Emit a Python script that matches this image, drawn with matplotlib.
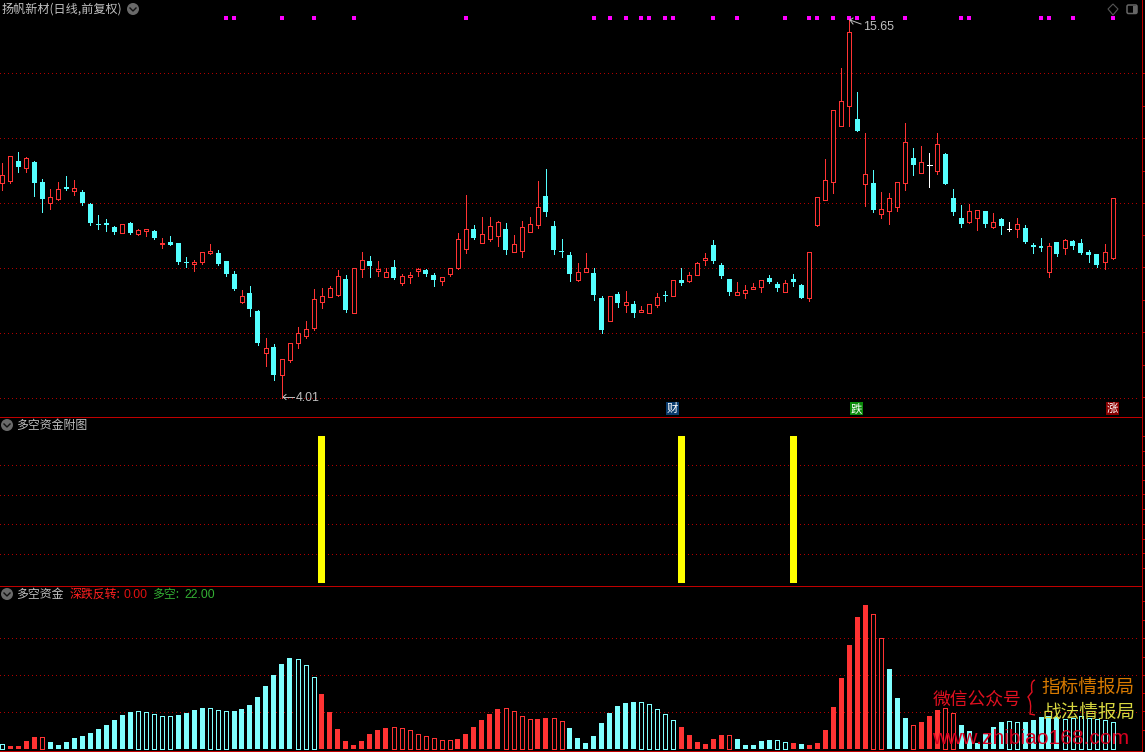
import matplotlib
matplotlib.use("Agg")
import matplotlib.pyplot as plt
from matplotlib.patches import Circle, Polygon, Rectangle, FancyBboxPatch, PathPatch
from matplotlib.path import Path
import numpy as np

plt.rcParams['font.family'] = ['Noto Sans CJK SC', 'DejaVu Sans']

########## data ##########
opens = [8.71, 8.77, 9.42, 9.17, 9.37, 8.73, 8.09, 8.22, 8.57, 8.46,
         8.42, 8.06, 7.50, 7.52, 7.41, 7.27, 7.53, 7.24, 7.31, 7.31,
         6.99, 7.03, 7.00, 6.53, 6.50, 6.54, 6.76, 6.76, 6.56, 6.26,
         5.66, 5.85, 5.48, 4.71, 4.82, 4.35, 4.59, 4.88, 5.00, 5.15,
         5.66, 5.77, 5.81, 6.15, 5.44, 6.38, 6.56, 6.33, 6.20, 6.42,
         6.07, 6.19, 6.34, 6.35, 6.24, 6.11, 6.26, 6.40, 6.86, 7.37,
         7.01, 7.11, 7.19, 7.37, 6.79, 6.81, 7.30, 7.48, 8.30, 7.45,
         6.80, 6.71, 6.13, 6.31, 6.28, 5.74, 5.29, 5.82, 5.60, 5.62,
         5.47, 5.44, 5.60, 5.80, 5.79, 6.13, 6.11, 6.25, 6.59, 6.95,
         6.47, 6.15, 5.81, 5.85, 5.93, 5.98, 6.17, 6.04, 5.87, 6.15,
         6.02, 5.75, 7.48, 8.19, 8.74, 10.69, 11.49, 10.96, 8.67, 8.69,
         7.78, 7.87, 7.98, 8.71, 9.52, 9.03, 9.30, 9.09, 9.66, 8.24,
         7.67, 7.57, 7.68, 7.86, 7.43, 7.64, 7.37, 7.37, 7.39, 6.95,
         6.93, 6.31, 7.03, 6.88, 7.05, 7.00, 6.78, 6.73, 6.54, 6.64]
highs = [9.34, 9.60, 9.73, 9.54, 9.41, 8.84, 8.50, 8.73, 8.92, 8.81,
         8.47, 8.08, 7.75, 7.64, 7.44, 7.49, 7.55, 7.38, 7.36, 7.33,
         7.13, 7.18, 7.00, 6.65, 6.60, 6.78, 6.98, 6.82, 6.56, 6.33,
         5.91, 5.99, 5.50, 4.97, 4.87, 4.61, 4.89, 5.17, 5.28, 5.93,
         5.95, 5.99, 6.35, 6.24, 6.41, 6.78, 6.68, 6.56, 6.39, 6.58,
         6.26, 6.31, 6.40, 6.37, 6.28, 6.19, 6.40, 7.26, 8.33, 7.47,
         7.69, 7.69, 7.58, 7.53, 7.21, 7.58, 7.69, 8.76, 9.14, 7.58,
         7.10, 6.78, 6.51, 6.76, 6.40, 5.78, 5.78, 5.87, 5.89, 5.68,
         5.58, 5.63, 5.85, 5.89, 6.14, 6.40, 6.31, 6.53, 6.76, 7.08,
         6.51, 6.15, 6.08, 6.02, 6.06, 6.14, 6.24, 6.08, 6.13, 6.26,
         6.04, 6.77, 8.26, 9.48, 11.31, 13.17, 15.65, 12.08, 10.41, 9.11,
         8.42, 8.39, 8.72, 10.80, 9.87, 9.94, 9.69, 10.41, 9.69, 8.51,
         8.03, 8.06, 7.89, 7.86, 7.80, 7.67, 7.55, 7.67, 7.47, 7.00,
         7.13, 7.00, 7.03, 7.10, 7.08, 7.10, 6.83, 6.73, 6.98, 8.23]
lows = [8.48, 8.71, 9.05, 9.06, 8.30, 7.84, 7.92, 8.19, 8.48, 8.33,
        8.04, 7.47, 7.37, 7.31, 7.24, 7.27, 7.24, 7.21, 7.18, 7.10,
        6.88, 6.95, 6.49, 6.42, 6.33, 6.49, 6.73, 6.47, 6.21, 5.91,
        5.64, 5.38, 4.84, 4.49, 4.27, 4.01, 4.56, 4.79, 4.97, 5.11,
        5.54, 5.77, 5.78, 5.47, 5.44, 6.19, 6.19, 6.21, 6.20, 6.15,
        6.02, 6.06, 6.21, 6.21, 5.99, 6.02, 6.21, 6.37, 6.76, 7.10,
        7.01, 7.05, 6.93, 6.73, 6.79, 6.65, 7.29, 7.39, 7.72, 6.73,
        6.65, 6.10, 6.10, 6.31, 5.70, 5.07, 5.29, 5.56, 5.46, 5.36,
        5.47, 5.44, 5.56, 5.68, 5.79, 6.02, 6.08, 6.25, 6.47, 6.51,
        6.17, 5.80, 5.81, 5.74, 5.93, 5.87, 6.06, 5.89, 5.87, 5.99,
        5.74, 5.68, 7.45, 8.19, 8.39, 10.69, 10.68, 10.49, 8.00, 7.83,
        7.67, 7.50, 7.86, 8.48, 8.95, 9.03, 8.57, 8.98, 8.67, 7.75,
        7.42, 7.53, 7.34, 7.42, 7.39, 7.24, 7.31, 7.16, 7.00, 6.76,
        6.80, 6.19, 6.68, 6.73, 6.85, 6.73, 6.53, 6.42, 6.37, 6.61]
closes = [8.97, 9.58, 9.22, 9.51, 8.71, 8.22, 8.26, 8.50, 8.52, 8.53,
          8.10, 7.54, 7.48, 7.48, 7.30, 7.49, 7.26, 7.33, 7.36, 7.14,
          7.01, 6.96, 6.53, 6.52, 6.53, 6.77, 6.80, 6.49, 6.26, 5.93,
          5.78, 5.52, 4.88, 4.80, 4.35, 4.61, 4.89, 5.07, 5.14, 5.73,
          5.79, 5.95, 6.21, 5.50, 6.41, 6.60, 6.44, 6.37, 6.32, 6.17,
          6.23, 6.25, 6.37, 6.26, 6.13, 6.19, 6.39, 7.10, 7.36, 7.13,
          7.23, 7.44, 7.57, 6.83, 6.97, 7.41, 7.49, 7.97, 7.83, 6.83,
          6.79, 6.26, 6.32, 6.41, 5.80, 5.11, 5.78, 5.64, 5.67, 5.44,
          5.50, 5.63, 5.76, 5.79, 6.14, 6.06, 6.25, 6.51, 6.64, 6.56,
          6.21, 5.87, 5.88, 5.91, 5.97, 6.14, 6.08, 5.95, 6.06, 6.08,
          5.74, 6.77, 8.26, 8.81, 11.31, 11.68, 14.98, 10.49, 9.00, 7.89,
          7.91, 8.23, 8.72, 10.08, 9.28, 9.37, 9.30, 10.00, 8.67, 7.83,
          7.50, 7.85, 7.88, 7.50, 7.57, 7.45, 7.37, 7.49, 7.03, 6.90,
          6.88, 6.92, 6.73, 7.07, 6.93, 6.76, 6.71, 6.47, 6.77, 8.23]

# bottom panel 多空资金
funds = [3.8, 2.4, 2.4, 6.5, 9.7, 9.7, 5.7, 3.2, 5.7, 8.9,
         10.5, 13.0, 16.2, 19.5, 23.5, 27.6, 30.0, 30.5, 29.7, 28.1,
         26.5, 26.5, 27.6, 29.2, 31.6, 33.2, 33.0, 31.4, 30.5, 30.8,
         32.4, 35.7, 42.2, 51.1, 60.0, 68.9, 73.8, 72.7, 67.8, 58.1,
         44.6, 30.0, 16.2, 6.5, 3.2, 6.5, 12.2, 15.4, 17.0, 17.6,
         16.8, 15.1, 11.9, 10.3, 8.6, 7.0, 7.0, 8.1, 12.2, 17.8,
         23.5, 28.4, 32.4, 33.0, 30.5, 26.5, 24.1, 24.3, 25.1, 24.9,
         22.4, 17.0, 8.9, 4.9, 10.5, 21.1, 29.2, 34.9, 37.3, 38.1,
         37.8, 36.2, 32.2, 28.1, 23.2, 17.8, 11.4, 5.7, 4.1, 8.1,
         11.4, 11.1, 8.1, 3.2, 3.2, 6.5, 7.3, 7.0, 5.4, 4.6,
         4.1, 3.2, 4.9, 15.4, 34.1, 57.6, 84.3, 107.0, 116.8, 109.2,
         89.7, 64.9, 41.4, 25.1, 19.2, 21.9, 26.8, 31.6, 33.0, 28.9,
         19.5, 14.6, 4.9, 12.2, 17.8, 21.9, 22.7, 21.9, 21.9, 23.5,
         25.9, 26.8, 25.9, 24.3, 24.9, 26.8, 25.1, 24.6, 23.5, 22.0]
red_days = list(range(1, 6)) + list(range(40, 71)) + list(range(85, 92)) + [99] \
    + list(range(101, 111)) + list(range(114, 120))
hollow_days = [0, 5, 17, 18, 19, 20, 21, 26, 27, 28, 37, 38, 39] + list(range(49, 57)) \
    + [63, 64, 65, 66, 69, 70, 80, 81, 82, 83, 84, 91, 97, 98, 109, 110, 114, 118, 119, 126, 127] \
    + list(range(133, 140))

# 附图 yellow signal bars and the magenta markers on top
signal_days = [40, 85, 99]
signal_values = [100, 100, 100]
marker_days = [28, 29, 35, 39, 44, 58, 74, 76, 78, 80, 81, 83, 84, 89, 92, 98,
               101, 102, 104, 106, 107, 109, 113, 120, 121, 130, 131, 134, 139]
price_grid = [4.01, 5.07, 6.41, 8.08, 10.22, 12.92]
signal_grid = [20, 40, 60, 80]
funds_grid = [30, 60, 90]
low_price = 4.01
high_price = 15.65

########## colours ##########
RED = "#ff3333"
CYAN = "#54ffff"
BAR_CYAN = "#80ffff"
GRID = "#b00000"
FRAME = "#c00000"
GRAY = "#c0c0c0"

W, H = 1145, 752
fig = plt.figure(figsize=(W / 100, H / 100), dpi=100, facecolor="black")


def panel(top, bottom):
    ax = fig.add_axes([0, 1 - bottom / H, 1, (bottom - top) / H], facecolor="black")
    ax.axis("off")
    ax.set_xlim((0 - 2.3) / 7.99, (W - 2.3) / 7.99)
    return ax


def dotted(ax, values):
    for v in values:
        ax.axhline(v, xmax=1137 / W, color=GRID, lw=0.72, ls=(0, (1, 3)), antialiased=False, zorder=1)


x = np.arange(len(closes))
body_w = 4 / 7.99

########## candles ##########
ax1 = panel(0, 416.3)
ax1.set_yscale("log")
ax1.axis("off")
ax1.set_ylim(3.748, 16.84)
ax1.set_xlim((0 - 2.3) / 7.99, (W - 2.3) / 7.99)
dotted(ax1, price_grid)

for i in x:
    o, h, l, c = opens[i], highs[i], lows[i], closes[i]
    if c == o:
        col = "white"
    elif c > o:
        col = RED
    else:
        col = CYAN
    ax1.vlines(i, l, h, color=col, lw=0.72, antialiased=False, zorder=2)
    if c == o:
        ax1.hlines(c, i - 0.3, i + 0.3, color=col, lw=0.72, antialiased=False, zorder=3)
    elif c > o:
        ax1.bar(i, c - o, bottom=o, width=body_w, facecolor="black", edgecolor=col, lw=0.72,
                antialiased=False, zorder=3)
    else:
        ax1.bar(i, o - c, bottom=c, width=body_w + 1 / 7.99, facecolor=col, lw=0,
                antialiased=False, zorder=3)

# magenta markers sit at a fixed height in the panel
ax1.scatter(marker_days, [15.76] * len(marker_days), marker="s", s=6, color="#ff00ff", lw=0, zorder=4)

########## 附图 ##########
ax2 = panel(416.3, 585.3)
ax2.set_ylim(-1.56, 113.4)
dotted(ax2, signal_grid)
ax2.bar(signal_days, signal_values, width=7 / 7.99, color="#ffff00", lw=0, antialiased=False, zorder=3)

########## 多空资金 ##########
ax3 = panel(585.3, 752)
ax3.set_ylim(-2.43, 132.8)
dotted(ax3, funds_grid)
for i in x:
    col = RED if i in red_days else BAR_CYAN
    if i in hollow_days:
        ax3.bar(i, funds[i], width=body_w, facecolor="black", edgecolor=col, lw=0.72,
                antialiased=False, zorder=3)
    else:
        ax3.bar(i, funds[i], width=body_w + 1 / 7.99, facecolor=col, lw=0, antialiased=False, zorder=3)

########## frame, labels (pixel overlay) ##########
ov = fig.add_axes([0, 0, 1, 1], facecolor="none")
ov.axis("off")
ov.set_xlim(0, W)
ov.set_ylim(H, 0)

for yy in [416.5, 585.5, 751]:
    ov.hlines(yy, 0, 1141.5, color=FRAME, lw=0.72, antialiased=False)
ov.vlines(1141.5, 0, H, color=FRAME, lw=0.72, antialiased=False)

# scale ticks on the right border
for yy in [73.3, 138.3, 203.3, 267.3, 332.3, 397.3, 436.3, 465.3, 494.3, 524.3, 553.3, 601, 638.3, 675.3, 711.3]:
    ov.hlines(yy, 1141.5, 1145, color=FRAME, lw=0.72, antialiased=False)
for yy in [106, 171, 235, 300, 365, 451, 480, 509, 539, 568, 620, 657, 693, 730]:
    ov.hlines(yy, 1141.5, 1144, color=FRAME, lw=0.72, antialiased=False)


def arrow_down(cx, cy):
    ov.add_patch(Circle((cx, cy), 6, color="#6a6a6a", lw=0))
    ov.plot([cx - 3, cx, cx + 3], [cy - 1, cy + 2, cy - 1], color="#111111", lw=1.0)


arrow_down(133, 9)
arrow_down(7, 425)
arrow_down(7, 594)

ov.text(2, 9.5, "扬帆新材(日线,前复权)", color=GRAY, fontsize=8.7, va="center", ha="left")
ov.text(16, 425.5, "多空资金附图", color=GRAY, fontsize=8.6, va="center", ha="left")
ov.text(16, 594.5, "多空资金", color=GRAY, fontsize=8.6, va="center", ha="left")
ov.text(70, 594.5, "深跌反转:", color="#ff2020", fontsize=8.6, va="center", ha="left")
ov.text(124, 594.5, "0.00", color="#e01010", fontsize=8.8, va="center", ha="left", family="Liberation Sans")
ov.text(152, 594.5, "多空:", color="#33b033", fontsize=8.6, va="center", ha="left")
ov.text(184, 594.5, "22.00", color="#33b033", fontsize=8.8, va="center", ha="left", family="Liberation Sans")

# high / low labels
ov.plot([283, 294], [397, 397], color=GRAY, lw=0.7)
ov.plot([286, 283, 286], [394.5, 397, 399.5], color=GRAY, lw=0.7)
ov.text(296, 398, f"{low_price:.2f}", color=GRAY, fontsize=8.9, va="center", ha="left", family="Liberation Sans")
ov.plot([850, 861], [20, 24], color=GRAY, lw=0.7)
ov.plot([853, 850, 853], [18, 20, 24], color=GRAY, lw=0.7)
ov.text(863, 26.5, f"{high_price:.2f}", color=GRAY, fontsize=8.9, va="center", ha="left", family="Liberation Sans")

# news badges
for bx, txt, bg in [(666, "财", "#0a3c6e"), (850, "跌", "#0a8a0a"), (1106, "涨", "#8a0000")]:
    ov.add_patch(Rectangle((bx, 402), 13, 13, color=bg, lw=0))
    ov.text(bx + 6.5, 408.5, txt, color="white", fontsize=8.2, va="center", ha="center")

# top right icons
ov.add_patch(Polygon([(1113, 4), (1118, 9), (1113, 15), (1108, 9)], fill=False, edgecolor="#555555", lw=0.8))
ov.add_patch(FancyBboxPatch((1127, 5), 10, 8.5, boxstyle="round,pad=0,rounding_size=1.5", fill=False,
                            edgecolor="#666666", lw=1.1))
ov.add_patch(Rectangle((1133, 6), 4, 7, color="#666666", lw=0))

# watermark
ov.text(933, 700, "微信公众号", color="#e01020", fontsize=12.8, va="center", ha="left")
ov.text(1041, 688, "指标情报局", color="#d87a00", fontsize=13.4, va="center", ha="left")
ov.text(1042, 713, "战法情报局", color="#d8d840", fontsize=13.4, va="center", ha="left")
brace = Path([(1035, 680), (1030, 681), (1032, 692), (1028, 697), (1032, 702), (1030, 714), (1035, 715)],
             [Path.MOVETO, Path.CURVE3, Path.CURVE3, Path.LINETO, Path.CURVE3, Path.CURVE3, Path.LINETO])
ov.add_patch(PathPatch(brace, fill=False, edgecolor="#e01020", lw=1.0))
ov.text(932, 738, "www.zhibiao168.com", color="#d80020", fontsize=15.1, va="center", ha="left",
        family="Liberation Sans")

fig.savefig("out.png", dpi=100, facecolor="black")
